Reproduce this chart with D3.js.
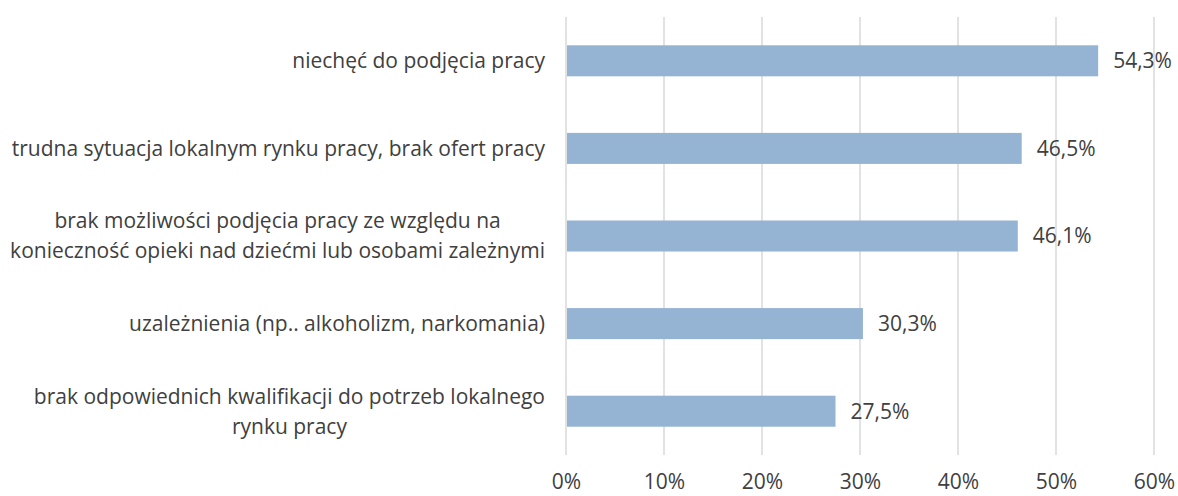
<!DOCTYPE html>
<html>
<head>
<meta charset="utf-8">
<script src="https://cdn.jsdelivr.net/npm/d3@7"></script>
<style>
  body { margin: 0; background: #fff; }
  text { font-family: "Open Sans", sans-serif; fill: #404040; }
</style>
</head>
<body>
<svg id="chart"></svg>
<script>
// categories (each entry is the list of lines for the label)
const categories = [
    ['niechęć do podjęcia pracy'],
    ['trudna sytuacja lokalnym rynku pracy, brak ofert pracy'],
    ['brak możliwości podjęcia pracy ze względu na', 'konieczność opieki nad dziećmi lub osobami zależnymi'],
    ['uzależnienia (np.. alkoholizm, narkomania)'],
    ['brak odpowiednich kwalifikacji do potrzeb lokalnego', 'rynku pracy']
];
const values = [54.3, 46.5, 46.1, 30.3, 27.5];
const xTicks = [0, 10, 20, 30, 40, 50, 60];

const FONT_SIZE = '21px';

const width = 1178, height = 496;
const margin = {top: 17, right: 24, bottom: 41, left: 566};
const innerW = width - margin.left - margin.right;
const innerH = height - margin.top - margin.bottom;

const svg = d3.select('#chart')
    .attr('width', width)
    .attr('height', height);

const g = svg.append('g')
    .attr('transform', `translate(${margin.left},${margin.top})`);

const xScale = d3.scaleLinear().domain([0, 60]).range([0, innerW]);
const yScale = d3.scaleBand()
    .domain(d3.range(categories.length))
    .range([0, innerH])
    .paddingInner(0.646)
    .paddingOuter(0.323);

// gridlines
g.selectAll('.grid')
    .data(xTicks)
    .join('line')
    .attr('class', 'grid')
    .attr('x1', d => xScale(d))
    .attr('x2', d => xScale(d))
    .attr('y1', 0)
    .attr('y2', innerH)
    .attr('stroke', '#d9d9d9')
    .attr('stroke-width', 1.5);

// bars
g.selectAll('.bar')
    .data(values)
    .join('rect')
    .attr('class', 'bar')
    .attr('x', xScale(0) + 1)
    .attr('y', (d, i) => yScale(i))
    .attr('width', d => xScale(d) - xScale(0) - 1)
    .attr('height', yScale.bandwidth())
    .attr('fill', '#95b3d2');

// value labels
g.selectAll('.value-label')
    .data(values)
    .join('text')
    .attr('class', 'value-label')
    .attr('x', d => xScale(d) + 15)
    .attr('y', (d, i) => yScale(i) + yScale.bandwidth() / 2)
    .attr('dy', '0.35em')
    .style('font-size', FONT_SIZE)
    .text(d => d3.format('.1f')(d).replace('.', ',') + '%');

// x axis
const xAxis = d3.axisBottom(xScale)
    .tickValues(xTicks)
    .tickSize(0)
    .tickPadding(19)
    .tickFormat(d => d + '%');

g.append('g')
    .attr('class', 'axis x-axis')
    .attr('transform', `translate(0,${innerH})`)
    .call(xAxis)
    .call(a => a.select('.domain').remove())
    .call(a => a.selectAll('text')
        .style('font-size', FONT_SIZE)
        .style('font-family', '"Open Sans", sans-serif')
        .attr('fill', '#404040'));

// category labels: lines centred within a block right-aligned at x = -21
const labelRight = -21;
const lineH = 30;
categories.forEach((lines, i) => {
    const t = g.append('text')
        .attr('class', 'cat-label')
        .style('font-size', FONT_SIZE)
        .attr('text-anchor', 'middle');
    const cy = yScale(i) + yScale.bandwidth() / 2;
    lines.forEach((line, j) => {
        t.append('tspan')
            .attr('x', 0)
            .attr('y', cy + (j - (lines.length - 1) / 2) * lineH)
            .attr('dy', '0.35em')
            .text(line);
    });
    const w = d3.max(t.selectAll('tspan').nodes(), n => n.getComputedTextLength());
    t.selectAll('tspan').attr('x', labelRight - w / 2);
});
</script>
</body>
</html>
